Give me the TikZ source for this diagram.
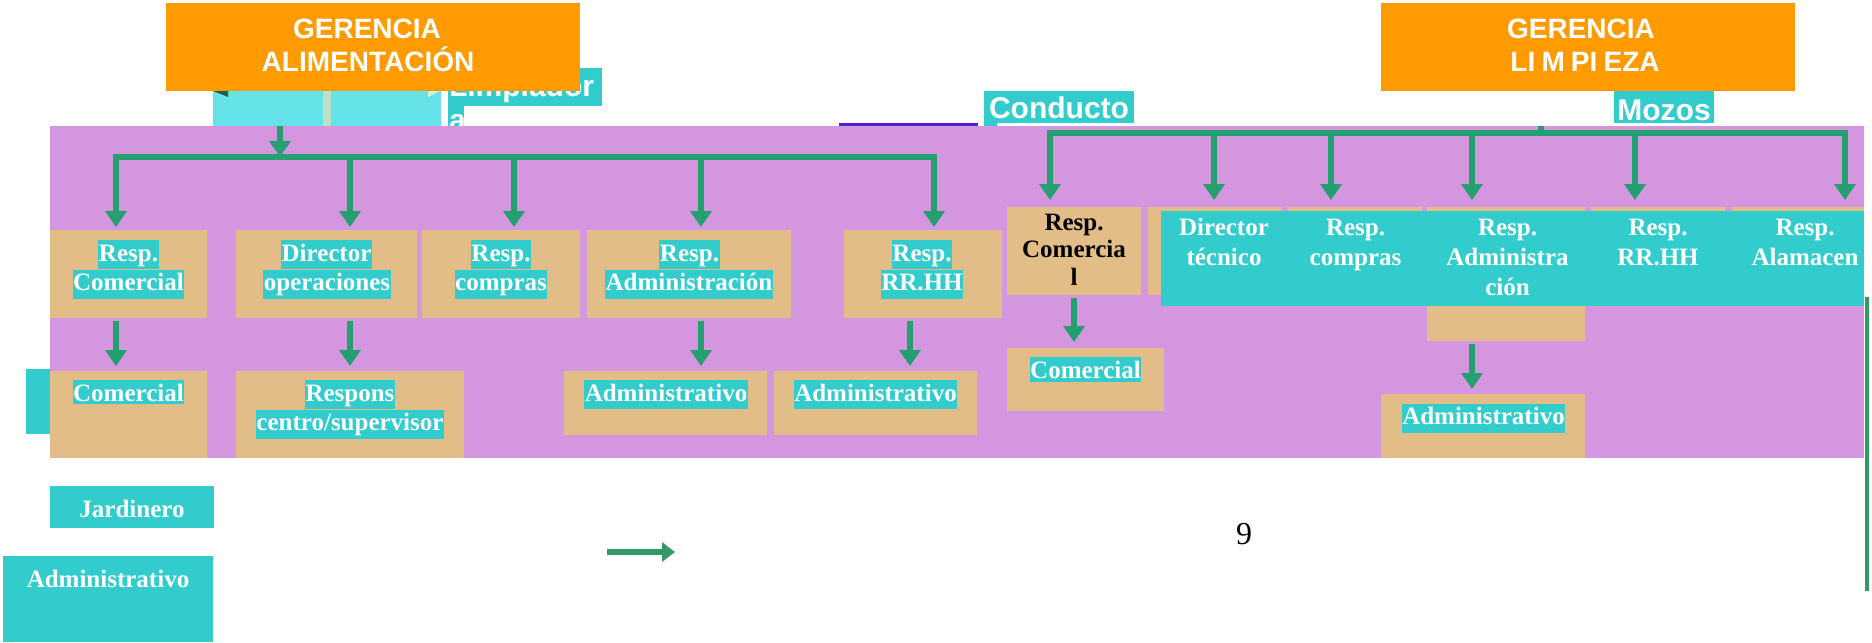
\documentclass[tikz,border=0pt]{standalone}
\usepackage{fontspec}
\setmainfont{Liberation Serif}
\newfontfamily\headsans{Liberation Sans}
\usetikzlibrary{arrows.meta}

\definecolor{orgc}{HTML}{FF9A00}
\definecolor{tanc}{HTML}{E3BD87}
\definecolor{purc}{HTML}{D596E0}
\definecolor{cyanc}{HTML}{33CCCC}
\definecolor{lcyanc}{HTML}{66E3E8}
\definecolor{linkg}{HTML}{24A070}
\definecolor{darkg}{HTML}{339966}
\definecolor{violc}{HTML}{4B22CF}
\definecolor{palec}{HTML}{BFE0C8}
\definecolor{tealdk}{HTML}{1F5F50}

\newcommand\serifb{\fontsize{12.5}{15}\selectfont\bfseries}
\newcommand\serifbt{\fontsize{12.5}{13.75}\selectfont\bfseries}
\newcommand\sansb{\headsans\fontsize{14}{16.5}\selectfont\bfseries}
\newcommand\sansbig{\headsans\fontsize{15}{17}\selectfont\bfseries}

% rectangular node from its corner coordinates (in px units)
\newcommand\areabox[6]{%
  \node[#2, minimum width={(#5-#3)*0.5pt}, minimum height={(#6-#4)*0.5pt}]
    (#1) at ({(#3+#5)/2},{(#4+#6)/2}) {};}

\begin{document}
\begin{tikzpicture}[x=0.5pt,y=-0.5pt,
  every node/.style={inner sep=0pt,outer sep=0pt},
  hl/.style={fill=cyanc,text=white,font=\serifb,text height=10.5pt,text depth=4pt,inner xsep=0.3pt},
  bandtxt/.style={text=white,font=\serifb,align=center},
  headtxt/.style={text=white,font=\sansb},
  bigtxt/.style={text=white,font=\sansbig},
  link/.style={draw=linkg,line width=2.75pt,-{Triangle[width=10.5pt,length=8pt]}},
  bar/.style={draw=linkg,line width=2.75pt}]

\useasboundingbox (0,0) rectangle (1872,642);

% ---- elements behind the coloured panel ----
\areabox{lcy}{fill=lcyanc}{213}{91}{441}{126}
\fill[palec] (323,91) rectangle (331,126);
\fill[tealdk] (213,91) -- (228,91) -- (228,97) -- cycle;
\fill[palec!60!white] (428,91) -- (440,91) -- (428,97) -- cycle;

\areabox{limp1}{fill=cyanc}{448}{68}{602}{106}
\areabox{limp2}{fill=cyanc}{448}{106}{464}{126}
\node[bigtxt,anchor=base west] (limpT) at (449,97) {Limpiador};
\node[bigtxt,anchor=base west] (limpT2) at (449,131) {a};

\areabox{cond}{fill=cyanc}{984}{91}{1134}{123}
\fill[cyanc] (984,123) rectangle (997,126);
\node[bigtxt,anchor=base] (condT) at (1059,119) {Conducto};

\areabox{mozos}{fill=cyanc}{1614}{91}{1714}{123}
\node[bigtxt,anchor=base] (mozosT) at (1664,120) {Mozos};

\areabox{viol}{fill=violc}{839}{123}{978}{126}

% ---- panel ----
\areabox{panel}{fill=purc}{50}{126}{1864}{458}

% ---- heads ----
\areabox{galim}{fill=orgc}{166}{3}{580}{91}
\node[headtxt,anchor=base] (galimA) at (367,39) {GERENCIA};
\node[headtxt,anchor=base] (galimB) at (368,72) {ALIMENTACIÓN};

\areabox{glimp}{fill=orgc}{1381}{3}{1795}{91}
\node[headtxt,anchor=base] (glimpA) at (1581,39) {GERENCIA};
\node[headtxt,anchor=base] (glimpB) at (1585,72) {\spaceskip=0.22em LI M PI EZA};

% ---- left branch, first level ----
\areabox{a1}{fill=tanc}{50}{230}{207}{318}
\areabox{b1}{fill=tanc}{236}{230}{417}{318}
\areabox{c1}{fill=tanc}{422}{230}{580}{318}
\areabox{d1}{fill=tanc}{587}{230}{791}{318}
\areabox{e1}{fill=tanc}{844}{230}{1002}{318}

\node[hl] (a1t1) at (128.5,254.5) {Resp.};
\node[hl] (a1t2) at (128.5,284) {Comercial};
\node[hl] (b1t1) at (326.5,254.5) {Director};
\node[hl] (b1t2) at (327,284) {operaciones};
\node[hl] (c1t1) at (501,254.5) {Resp.};
\node[hl] (c1t2) at (501,284) {compras};
\node[hl] (d1t1) at (689.5,254.5) {Resp.};
\node[hl] (d1t2) at (689,284) {Administración};
\node[hl] (e1t1) at (922,254.5) {Resp.};
\node[hl] (e1t2) at (922,284) {RR.HH};

% ---- left branch, second level ----
\areabox{a2}{fill=tanc}{50}{371}{207}{458}
\areabox{astrip}{fill=cyanc}{26}{369}{50}{434}
\areabox{b2}{fill=tanc}{236}{371}{464}{458}
\areabox{d2}{fill=tanc}{564}{371}{767}{435}
\areabox{e2}{fill=tanc}{774}{371}{977}{435}

\node[hl,text depth=1.5pt] (a2t) at (128.5,392) {Comercial};
\node[hl] (b2t1) at (350,394.5) {Respons};
\node[hl] (b2t2) at (350,424) {centro/supervisor};
\node[hl] (d2t) at (666,394.5) {Administrativo};
\node[hl] (e2t) at (875.5,394.5) {Administrativo};

% ---- right branch, first level ----
\areabox{r1}{fill=tanc}{1007}{207}{1141}{295}
\areabox{r2}{fill=tanc}{1148}{207}{1282}{295}
\areabox{r3}{fill=tanc}{1288}{207}{1422}{295}
\areabox{r4}{fill=tanc}{1427}{207}{1585}{341}
\areabox{r5}{fill=tanc}{1591}{207}{1725}{295}
\areabox{r6}{fill=tanc}{1732}{207}{1864}{295}
\areabox{band}{fill=cyanc}{1161}{211}{1864}{306}

% multi-line texts: the base anchor sits on the last line
\node[font=\serifbt,align=center,anchor=base] (r1t) at (1074,285) {Resp.\\Comercia\\l};
\node[bandtxt,anchor=base] (r2t) at (1224,265) {Director\\técnico};
\node[bandtxt,anchor=base] (r3t) at (1355.5,265) {Resp.\\compras};
\node[bandtxt,anchor=base] (r4t) at (1507.5,295) {Resp.\\Administra\\ción};
\node[bandtxt,anchor=base] (r5t) at (1658,265) {Resp.\\RR.HH};
\node[bandtxt,anchor=base] (r6t) at (1805,265) {Resp.\\Alamacen};

% ---- right branch, second level ----
\areabox{r1b}{fill=tanc}{1007}{348}{1164}{411}
\areabox{r4b}{fill=tanc}{1381}{394}{1585}{458}
\node[hl,text depth=2pt] (r1bt) at (1085.5,369.5) {Comercial};
\node[hl] (r4bt) at (1483.5,418) {Administrativo};

% ---- connectors, left branch ----
\coordinate (lj) at (280,157);
\coordinate (xa) at (116,0);
\coordinate (xb) at (350,0);
\coordinate (xc) at (514,0);
\coordinate (xd) at (701,0);
\coordinate (xe) at (934,0);
\coordinate (xf) at (910,0);
\draw[link] (lcy.south -| lj) -- (lj);
\draw[link,shorten >=1.5pt] (lj) -| (a1.north -| xa);
\draw[link,shorten >=1.5pt] (lj) -| (b1.north -| xb);
\draw[link,shorten >=1.5pt] (lj) -| (c1.north -| xc);
\draw[link,shorten >=1.5pt] (lj) -| (d1.north -| xd);
\draw[link,shorten >=1.5pt] (lj) -| (e1.north -| xe);
\draw[link,shorten <=1.5pt,shorten >=2.5pt] (a1.south -| xa) -- (a2.north -| xa);
\draw[link,shorten <=1.5pt,shorten >=2.5pt] (b1.south -| xb) -- (b2.north -| xb);
\draw[link,shorten <=1.5pt,shorten >=2.5pt] (d1.south -| xd) -- (d2.north -| xd);
\draw[link,shorten <=1.5pt,shorten >=2.5pt] (e1.south -| xf) -- (e2.north -| xf);

% ---- connectors, right branch ----
\coordinate (rj) at (1541,133);
\coordinate (rs) at (1541,126);
\coordinate (rx1) at (1050,0);
\coordinate (rx2) at (1214,0);
\coordinate (rx3) at (1331,0);
\coordinate (rx4) at (1472,0);
\coordinate (rx5) at (1635,0);
\coordinate (rx6) at (1845,0);
\coordinate (ry1) at (1074,0);
\draw[bar] (rs) -- (rj);
\draw[link,shorten >=3.5pt] (rj) -| (r1.north -| rx1);
\draw[link,shorten >=3.5pt] (rj) -| (r2.north -| rx2);
\draw[link,shorten >=3.5pt] (rj) -| (r3.north -| rx3);
\draw[link,shorten >=3.5pt] (rj) -| (r4.north -| rx4);
\draw[link,shorten >=3.5pt] (rj) -| (r5.north -| rx5);
\draw[link,shorten >=3.5pt] (rj) -| (r6.north -| rx6);
\draw[link,shorten <=1.5pt,shorten >=3pt] (r1.south -| ry1) -- (r1b.north -| ry1);
\draw[link,shorten <=1.5pt,shorten >=2.5pt] (r4.south -| rx4) -- (r4b.north -| rx4);

% ---- below the panel ----
\areabox{jard}{fill=cyanc}{50}{486}{214}{528}
\node[text=white,font=\serifb,anchor=base] (jardT) at (132,517) {Jardinero};
\areabox{badm}{fill=cyanc}{3}{556}{213}{642}
\node[text=white,font=\serifb,anchor=base] (badmT) at (108,587) {Administrativo};

\coordinate (arS) at (607,552);
\coordinate (arE) at (675,552);
\draw[draw=darkg,line width=3pt,-{Triangle[width=9.5pt,length=6.5pt]}] (arS) -- (arE);

\node[font=\fontsize{16}{18}\selectfont,anchor=base] (pnum) at (1244,544) {9};

\coordinate (vlT) at (1867,297);
\coordinate (vlB) at (1867,591);
\draw[darkg,line width=2pt] (vlT) -- (vlB);

\end{tikzpicture}
\end{document}
